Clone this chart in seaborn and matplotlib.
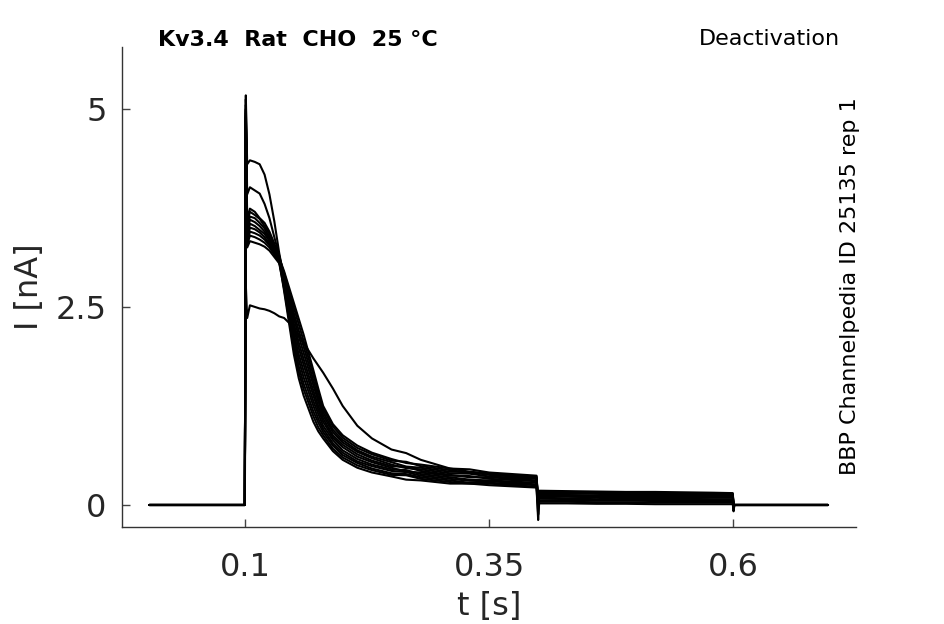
import matplotlib
matplotlib.use("Agg")
import matplotlib.pyplot as plt
import seaborn as sns
import pandas as pd

# sample times [s] shared by all sweeps
t = [0.002, 0.0998, 0.1008, 0.1022, 0.105, 0.11, 0.115, 0.12, 0.125, 0.13, 0.135,
     0.14, 0.145, 0.15, 0.155, 0.16, 0.17, 0.175, 0.18, 0.19, 0.2, 0.215, 0.23, 0.25,
     0.265, 0.28, 0.31, 0.33, 0.35, 0.3985,
     0.4002, 0.4012, 0.403, 0.43, 0.46, 0.49, 0.52, 0.55, 0.58,
     0.5995, 0.6003, 0.6012, 0.603, 0.697]

# current sweeps [nA]
sweep_1 = [0, 0, 5.17, 4.30, 4.35, 4.33, 4.30, 4.17, 3.92, 3.58, 3.18,
           2.85, 2.57, 2.29, 2.05, 1.84, 1.44, 1.25, 1.09, 0.88, 0.76, 0.64, 0.56, 0.49,
           0.48, 0.43, 0.38, 0.35, 0.35, 0.31,
           0.04, 0.12, 0.12, 0.125, 0.11, 0.115, 0.105, 0.11, 0.10,
           0.10, 0.0, 0.0, 0.0, 0.0]
sweep_2 = [0, 0, 5.12, 3.92, 4.01, 3.97, 3.93, 3.80, 3.62, 3.38, 3.15,
           2.90, 2.66, 2.42, 2.20, 2.00, 1.57, 1.36, 1.17, 0.95, 0.82, 0.69, 0.61, 0.54,
           0.485, 0.47, 0.42, 0.415, 0.38, 0.34,
           0.05, 0.15, 0.15, 0.145, 0.14, 0.135, 0.13, 0.125, 0.125,
           0.12, 0.0, 0.0, 0.0, 0.0]
sweep_3 = [0, 0, 5.05, 3.60, 3.74, 3.70, 3.62, 3.56, 3.45, 3.30, 3.12,
           2.80, 2.48, 2.16, 1.90, 1.69, 1.31, 1.15, 1.00, 0.82, 0.69, 0.58, 0.51, 0.45,
           0.44, 0.39, 0.35, 0.32, 0.31, 0.28,
           0.02, 0.09, 0.09, 0.085, 0.09, 0.08, 0.075, 0.08, 0.07,
           0.07, 0.0, 0.0, 0.0, 0.0]
sweep_4 = [0, 0, 5.00, 3.55, 3.70, 3.66, 3.61, 3.52, 3.42, 3.28, 3.12,
           2.95, 2.75, 2.55, 2.35, 2.15, 1.70, 1.47, 1.25, 1.02, 0.88, 0.75, 0.66, 0.58,
           0.53, 0.51, 0.46, 0.45, 0.41, 0.37,
           0.06, 0.18, 0.18, 0.175, 0.17, 0.165, 0.165, 0.16, 0.155,
           0.15, 0.0, 0.0, 0.0, 0.0]
sweep_5 = [0, 0, 4.95, 3.48, 3.64, 3.62, 3.56, 3.49, 3.38, 3.25, 3.10,
           2.75, 2.39, 2.03, 1.75, 1.53, 1.18, 1.04, 0.92, 0.75, 0.63, 0.53, 0.46, 0.40,
           0.39, 0.35, 0.31, 0.28, 0.28, 0.25,
           -0.02, 0.06, 0.06, 0.06, 0.055, 0.055, 0.05, 0.05, 0.05,
           0.05, -0.02, 0.0, 0.0, 0.0]
sweep_6 = [0, 0, 4.98, 3.42, 3.60, 3.57, 3.52, 3.45, 3.36, 3.24, 3.10,
           2.93, 2.71, 2.49, 2.28, 2.07, 1.64, 1.42, 1.21, 0.99, 0.85, 0.72, 0.64, 0.56,
           0.545, 0.49, 0.44, 0.405, 0.39, 0.36,
           0.05, 0.16, 0.16, 0.155, 0.15, 0.145, 0.14, 0.14, 0.135,
           0.13, 0.0, 0.0, 0.0, 0.0]
sweep_7 = [0, 0, 4.90, 3.38, 3.55, 3.52, 3.47, 3.42, 3.33, 3.22, 3.08,
           2.70, 2.30, 1.90, 1.60, 1.38, 1.05, 0.93, 0.84, 0.68, 0.57, 0.47, 0.41, 0.36,
           0.32, 0.31, 0.27, 0.27, 0.25, 0.22,
           -0.19, 0.02, 0.02, 0.02, 0.015, 0.015, 0.01, 0.01, 0.01,
           0.01, -0.08, 0.0, 0.0, 0.0]
sweep_8 = [0, 0, 4.92, 3.33, 3.50, 3.48, 3.44, 3.38, 3.30, 3.20, 3.08,
           2.83, 2.53, 2.23, 1.98, 1.77, 1.38, 1.20, 1.05, 0.85, 0.73, 0.61, 0.54, 0.47,
           0.42, 0.41, 0.37, 0.365, 0.33, 0.30,
           0.03, 0.11, 0.11, 0.105, 0.10, 0.10, 0.095, 0.09, 0.09,
           0.09, 0.0, 0.0, 0.0, 0.0]
sweep_9 = [0, 0, 4.88, 3.30, 3.45, 3.43, 3.40, 3.35, 3.28, 3.18, 3.07,
           2.78, 2.44, 2.10, 1.83, 1.61, 1.25, 1.09, 0.96, 0.78, 0.66, 0.55, 0.49, 0.43,
           0.415, 0.37, 0.33, 0.305, 0.30, 0.26,
           0.0, 0.08, 0.08, 0.075, 0.07, 0.07, 0.065, 0.065, 0.06,
           0.06, 0.0, 0.0, 0.0, 0.0]
sweep_10 = [0, 0, 4.85, 3.28, 3.40, 3.38, 3.35, 3.31, 3.25, 3.16, 3.06,
            2.88, 2.62, 2.36, 2.13, 1.92, 1.51, 1.31, 1.13, 0.92, 0.79, 0.67, 0.59, 0.51,
            0.465, 0.45, 0.40, 0.395, 0.36, 0.33,
            0.04, 0.13, 0.13, 0.125, 0.12, 0.12, 0.115, 0.11, 0.11,
            0.11, 0.0, 0.0, 0.0, 0.0]
sweep_11 = [0, 0, 4.80, 3.25, 3.33, 3.31, 3.29, 3.26, 3.21, 3.13, 3.05,
            2.73, 2.35, 1.97, 1.68, 1.46, 1.12, 0.98, 0.88, 0.71, 0.60, 0.50, 0.44, 0.38,
            0.375, 0.33, 0.29, 0.27, 0.27, 0.23,
            -0.12, 0.04, 0.04, 0.04, 0.035, 0.035, 0.03, 0.03, 0.03,
            0.03, -0.05, 0.0, 0.0, 0.0]
sweep_12 = [0, 0, 2.78, 2.36, 2.52, 2.50, 2.48, 2.47, 2.45, 2.42, 2.38,
            2.36, 2.30, 2.22, 2.14, 2.05, 1.85, 1.76, 1.67, 1.47, 1.25, 1.00, 0.84, 0.70,
            0.655, 0.57, 0.46, 0.42, 0.40, 0.35,
            0.05, 0.17, 0.17, 0.165, 0.16, 0.155, 0.15, 0.15, 0.145,
            0.14, 0.0, 0.0, 0.0, 0.0]

sweeps = [sweep_1, sweep_2, sweep_3, sweep_4, sweep_5, sweep_6,
          sweep_7, sweep_8, sweep_9, sweep_10, sweep_11, sweep_12]

x_ticks = [0.1, 0.35, 0.6]
x_ticklabels = ["0.1", "0.35", "0.6"]
y_ticks = [0, 2.5, 5]
y_ticklabels = ["0", "2.5", "5"]

# long format for seaborn
frames = []
for i, s in enumerate(sweeps):
    frames.append(pd.DataFrame({"t": t, "I": s, "sweep": i}))
df = pd.concat(frames, ignore_index=True)

sns.set_theme(style="ticks")
plt.rcParams["font.family"] = ["DejaVu Sans"]

fig = plt.figure(figsize=(9.45, 6.24), dpi=100)
ax = fig.add_axes([122 / 945, 1 - 526.7 / 624, (856 - 122) / 945, (526.7 - 47) / 624])

sns.lineplot(data=df, x="t", y="I", units="sweep", estimator=None, sort=False,
             color="black", linewidth=1.5, legend=False, ax=ax)

ax.set_xlim(-0.026, 0.7257)
ax.set_ylim(-0.274, 5.78)
ax.set_xticks(x_ticks)
ax.set_xticklabels(x_ticklabels)
ax.set_yticks(y_ticks)
ax.set_yticklabels(y_ticklabels)
ax.tick_params(direction="in", length=6, width=1, color="#444444",
               labelsize=23, labelcolor="#262626")
ax.tick_params(axis="x", pad=18)
ax.tick_params(axis="y", pad=11)
for side in ["top", "right"]:
    ax.spines[side].set_visible(False)
for side in ["left", "bottom"]:
    ax.spines[side].set_color("#333333")
    ax.spines[side].set_linewidth(1)

ax.set_xlabel("t [s]", fontsize=23, color="#262626", labelpad=6)
ax.set_ylabel("I [nA]", fontsize=23, color="#262626", labelpad=8)

fig.text(158 / 945, 1 - 40 / 624, "Kv3.4  Rat  CHO  25 °C", fontsize=16,
         fontweight="bold", ha="left", va="center", color="black")
fig.text(840 / 945, 1 - 39 / 624, "Deactivation", fontsize=16,
         ha="right", va="center", color="black")
fig.text(850 / 945, 1 - 286 / 624, "BBP Channelpedia ID 25135 rep 1", fontsize=16,
         rotation=90, ha="center", va="center", color="black")

fig.savefig("out.png", dpi=100)
